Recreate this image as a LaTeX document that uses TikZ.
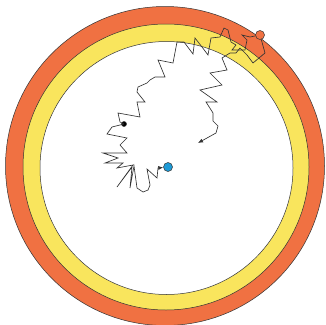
\documentclass[tikz,border=0pt]{standalone}
\usepackage{xcolor}
\usepackage{tikz}
\usetikzlibrary{arrows.meta}
\definecolor{outerband}{HTML}{F07142}
\definecolor{innerband}{HTML}{F9E55D}
\definecolor{exitdot}{HTML}{F07142}
\definecolor{targetdot}{HTML}{1E9AD6}
\definecolor{ink}{HTML}{333333}
\tikzset{
  band/.style={draw=ink,line width=0.5pt},
  walk/.style={draw=ink,line width=0.65pt,line join=miter},
  arr/.style={-{Latex[length=5pt,width=4pt]}},
  dot/.style={circle,draw=ink,line width=0.5pt,inner sep=0pt,minimum size=#1}
}

\begin{document}
\begin{tikzpicture}[x=1pt,y=-1pt]
 \useasboundingbox (0,0) rectangle (326,324);
 % bands
 \filldraw[band,fill=outerband] (165,166) circle (159.5);
 \filldraw[band,fill=innerband] (166,167) circle (143);
 \filldraw[band,fill=white] (166.5,168) circle (126.5);
 % dots
 \node[dot=5pt,fill=black] (start) at (124,124) {};
 \node[dot=9pt,fill=exitdot] (exit) at (260,35) {};
 \node[dot=9pt,fill=targetdot] (target) at (168,167) {};
 \coordinate (stop) at (198,143);
 % walk up to the boundary
 \draw[walk] (start.center) -- (120,122) -- (118,113) -- (140,117) -- (137,102) -- (145,102)
   -- (137,92) -- (138,87) -- (147,83) -- (150,80) -- (155,77) -- (165,77) -- (158,60)
   -- (173,63) -- (177,42) -- (184,42) -- (193,54) -- (195,38) -- (202,47) -- (208,55)
   -- (211,38) -- (220,37) -- (224,28) -- (228,30) -- (231,42) -- (236,45) -- (232,50)
   -- (245,50) -- (247,40) -- (242,35) -- (250,37) -- (exit);
 % wandering back inside
 \draw[walk,arr] (exit) -- (265,53) -- (253,63) -- (247,55) -- (240,48) -- (236,53)
   -- (230,53) -- (222,58) -- (227,70) -- (210,73) -- (222,85) -- (200,90) -- (217,102)
   -- (206,102) -- (213,113) -- (213,121) -- (218,126) -- (216,133) -- (stop);
 % walk to the target
 \draw[walk,arr] (start.center) -- (112,127) -- (107,134) -- (127,138) -- (120,145)
   -- (127,153) -- (103,153) -- (118,158) -- (105,163) -- (123,163) -- (117,168)
   -- (133,165) -- (117,187) -- (132,167) -- (130,188) -- (134,166) -- (137,188)
   -- (143,192) -- (148,190) -- (150,185) -- (147,169) -- (157,178) -- (158,168)
   -- (target);
\end{tikzpicture}
\end{document}
